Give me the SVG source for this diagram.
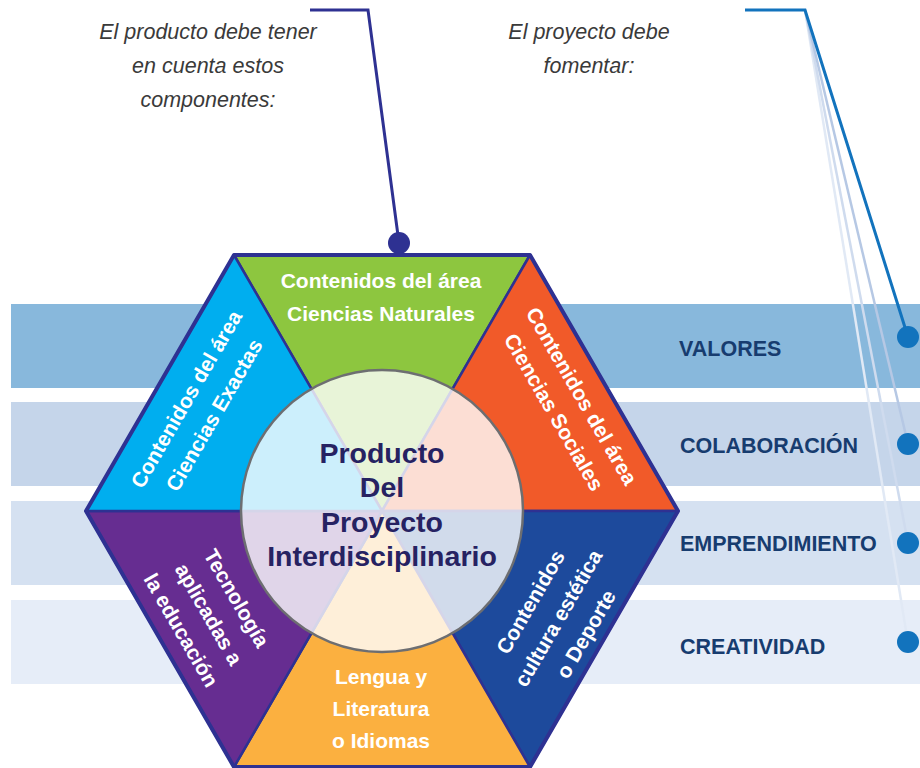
<svg xmlns="http://www.w3.org/2000/svg" width="920" height="768" viewBox="0 0 920 768">
<style>
  .seg { stroke: #2e3192; stroke-width: 2.5; stroke-linejoin: round; }
  .wt { font-family: "Liberation Sans", Arial, sans-serif; font-weight: bold; font-size: 21px; fill: #ffffff; text-anchor: middle; }
  .lab { font-family: "Liberation Sans", Arial, sans-serif; font-weight: bold; font-size: 21.5px; fill: #173c6f; }
  .ctr { font-family: "Liberation Sans", Arial, sans-serif; font-weight: bold; font-size: 28.5px; fill: #262262; text-anchor: middle; }
  .it { font-family: "Liberation Sans", Arial, sans-serif; font-style: italic; font-size: 21.5px; fill: #3a3a3a; text-anchor: middle; }
  .dot { fill: #1273bd; }
</style>
<rect width="920" height="768" fill="#ffffff"/>

<g id="band-valores">
  <rect x="11" y="304" width="909" height="84" fill="#88b8dc"/>
  <text class="lab" x="679" y="356">VALORES</text>
</g>
<g id="band-colaboracion">
  <rect x="11" y="402" width="909" height="84" fill="#c5d5ea"/>
  <text class="lab" x="680" y="453">COLABORACIÓN</text>
</g>
<g id="band-emprendimiento">
  <rect x="11" y="501" width="909" height="84" fill="#d5e1f1"/>
  <text class="lab" x="680" y="551">EMPRENDIMIENTO</text>
</g>
<g id="band-creatividad">
  <rect x="11" y="600" width="909" height="84" fill="#e6edf8"/>
  <text class="lab" x="680" y="654">CREATIVIDAD</text>
</g>

<g id="seg-naturales">
  <polygon class="seg" points="382,511 234,255 530,255" fill="#8dc63f"/>
  <text class="wt" x="381" y="288">Contenidos del área</text>
  <text class="wt" x="381" y="321">Ciencias Naturales</text>
</g>
<g id="seg-sociales">
  <polygon class="seg" points="382,511 530,255 678,511" fill="#f15a29"/>
  <g transform="translate(568,404) rotate(60)">
    <text class="wt" x="0" y="-8.5">Contenidos del área</text>
    <text class="wt" x="0" y="23.5">Ciencias Sociales</text>
  </g>
</g>
<g id="seg-deporte">
  <polygon class="seg" points="382,511 678,511 530,767" fill="#1d4a9c"/>
  <g transform="translate(558,618) rotate(-60)">
    <text class="wt" x="0" y="-24.5">Contenidos</text>
    <text class="wt" x="0" y="7.5">cultura estética</text>
    <text class="wt" x="0" y="39.5">o Deporte</text>
  </g>
</g>
<g id="seg-lengua">
  <polygon class="seg" points="382,511 530,767 234,767" fill="#fbb040"/>
  <text class="wt" x="381" y="684">Lengua y</text>
  <text class="wt" x="381" y="716">Literatura</text>
  <text class="wt" x="381" y="748">o Idiomas</text>
</g>
<g id="seg-tecnologia">
  <polygon class="seg" points="382,511 234,767 86,511" fill="#662d91"/>
  <g transform="translate(209,614) rotate(60)">
    <text class="wt" x="0" y="-24.5">Tecnología</text>
    <text class="wt" x="0" y="7.5">aplicadas a</text>
    <text class="wt" x="0" y="39.5">la educación</text>
  </g>
</g>
<g id="seg-exactas">
  <polygon class="seg" points="382,511 86,511 234,255" fill="#00aeef"/>
  <g transform="translate(200,407) rotate(-60)">
    <text class="wt" x="0" y="-8.5">Contenidos del área</text>
    <text class="wt" x="0" y="23.5">Ciencias Exactas</text>
  </g>
</g>
<polygon id="hex-outline" points="234,255 530,255 678,511 530,767 234,767 86,511" fill="none" stroke="#2e3192" stroke-width="4" stroke-linejoin="round"/>

<g id="center">
  <circle cx="382" cy="511" r="141" fill="#ffffff" fill-opacity="0.8" stroke="#6d6e71" stroke-width="2.5"/>
  <text class="ctr" x="382" y="463">Producto</text>
  <text class="ctr" x="382" y="497">Del</text>
  <text class="ctr" x="382" y="532">Proyecto</text>
  <text class="ctr" x="382" y="566">Interdisciplinario</text>
</g>

<g id="note-left">
  <text class="it" x="208" y="39">El producto debe tener</text>
  <text class="it" x="208" y="73">en cuenta estos</text>
  <text class="it" x="208" y="107">componentes:</text>
</g>
<g id="note-right">
  <text class="it" x="589" y="39">El proyecto debe</text>
  <text class="it" x="589" y="73">fomentar:</text>
</g>

<g id="connectors" fill="none" stroke-linejoin="miter">
  <polyline points="310,10 368,10 399,243" stroke="#2e3192" stroke-width="3"/>
  <line x1="805" y1="10" x2="908" y2="643" stroke="#e1e9f5" stroke-width="2.5"/>
  <line x1="805" y1="10" x2="908" y2="543" stroke="#cfdbee" stroke-width="2.5"/>
  <line x1="805" y1="10" x2="908" y2="444" stroke="#b6c8e4" stroke-width="2.5"/>
  <polyline points="745,10 805,10 908,337" stroke="#1273bd" stroke-width="3"/>
  <circle cx="399" cy="243" r="11" fill="#2e3192" stroke="none"/>
  <circle class="dot" cx="908" cy="337" r="11" stroke="none"/>
  <circle class="dot" cx="908" cy="444" r="11" stroke="none"/>
  <circle class="dot" cx="908" cy="543" r="11" stroke="none"/>
  <circle class="dot" cx="908" cy="642" r="11" stroke="none"/>
</g>
</svg>
